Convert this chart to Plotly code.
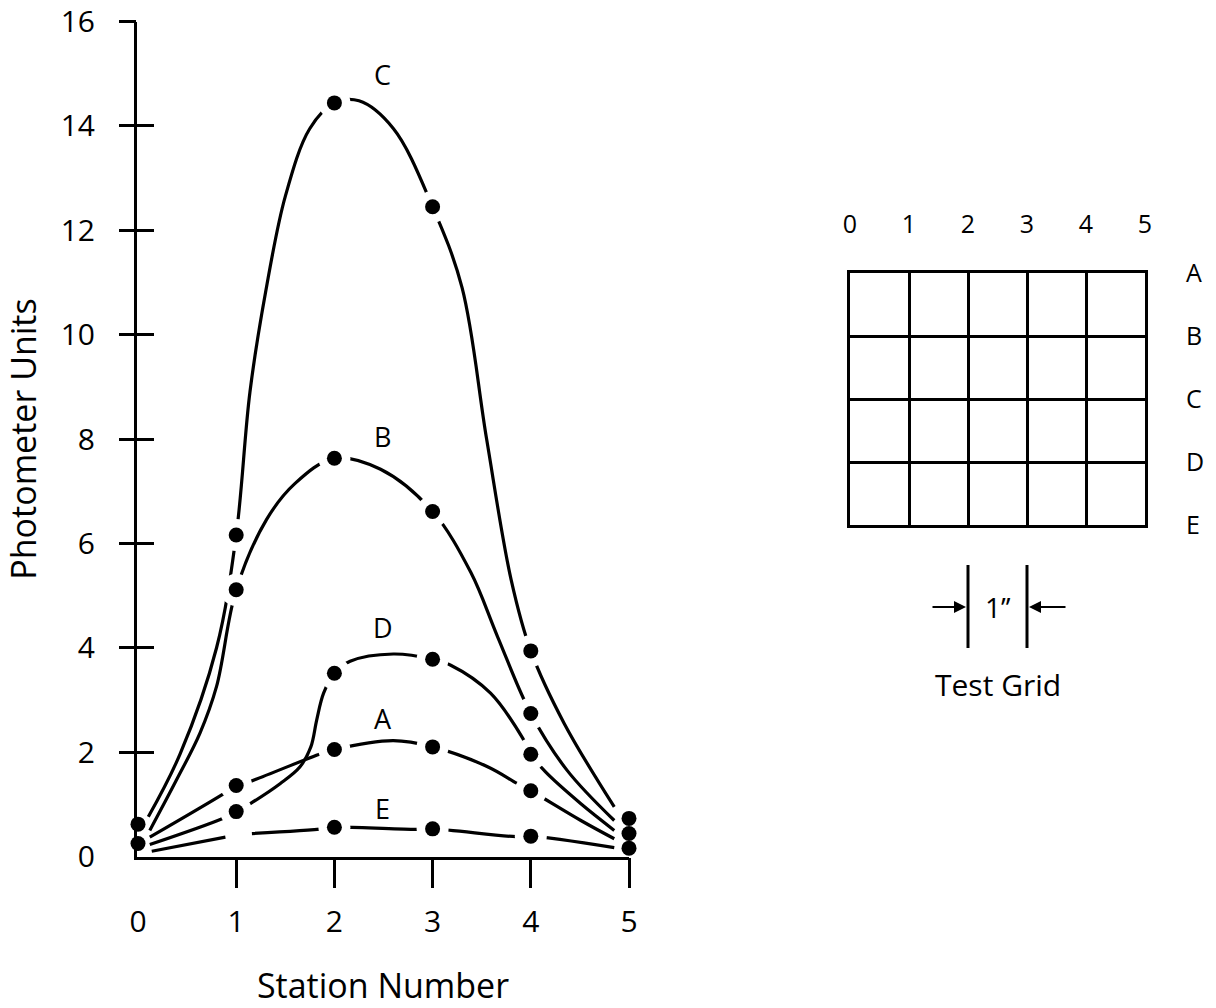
import plotly.graph_objects as go

FONT = "Open Sans"

# ---------------- data ----------------
stations = [0, 1, 2, 3, 4, 5]
x_tick_text = ["0", "1", "2", "3", "4", "5"]
y_tick_vals = [0, 2, 4, 6, 8, 10, 12, 14, 16]

# measured values (dots) per grid row, None = no dot drawn
dots_C = [0.62, 6.16, 14.44, 12.45, 3.94, 0.73]
dots_B = [0.25, 5.11, 7.63, 6.61, 2.74, None]
dots_D = [None, 0.86, 3.51, 3.78, 1.96, 0.44]
dots_A = [None, 1.36, 2.05, 2.10, 1.26, None]
dots_E = [None, None, 0.56, 0.53, 0.39, 0.16]

# readings (between the dots)
C_x = [0.105, 0.43, 0.8, 1.14, 1.3, 1.5, 1.75, 2.25, 2.6, 3.3, 3.55, 3.8, 4.34, 4.85]
C_y = [0.76, 1.97, 4.0, 8.9, 10.82, 12.65, 13.95, 14.48, 13.95, 10.9, 8.0, 5.3, 2.55, 0.95]
B_x = [0.12, 0.39, 0.63, 0.8, 1.31, 1.6, 2.47, 3.39, 3.66, 4.37, 4.85]
B_y = [0.5, 1.46, 2.36, 3.26, 6.46, 7.15, 7.42, 5.44, 4.22, 1.65, 0.69]
D_x = [0.12, 0.85, 1.14, 1.45, 1.65, 1.76, 1.82, 1.89, 2.16, 2.6, 3.18, 3.59, 3.92, 4.15, 4.51, 4.85]
D_y = [0.23, 0.72, 1.01, 1.4, 1.72, 2.1, 2.62, 3.13, 3.74, 3.88, 3.67, 3.13, 2.26, 1.62, 1.01, 0.5]
A_x = [0.12, 0.87, 1.13, 1.86, 2.6, 3.56, 3.86, 4.51, 4.85]
A_y = [0.37, 1.2, 1.43, 1.97, 2.22, 1.72, 1.4, 0.69, 0.34]
E_x = [0.14, 0.89, 1.0, 1.16, 1.89, 2.83, 3.85, 4.85]
E_y = [0.1, 0.37, None, 0.44, 0.53, 0.52, 0.38, 0.17]

series_names = ["C", "B", "D", "A", "E"]
series_dots = [dots_C, dots_B, dots_D, dots_A, dots_E]
series_x = [C_x, B_x, D_x, A_x, E_x]
series_y = [C_y, B_y, D_y, A_y, E_y]
label_x = 2.49
label_y = [14.98, 8.04, 4.38, 2.65, 0.92]

grid_cols = ["0", "1", "2", "3", "4", "5"]
grid_rows = ["A", "B", "C", "D", "E"]

# ---------------- figure ----------------
fig = go.Figure()

# curves
for name, dots, px_, py_ in zip(series_names, series_dots, series_x, series_y):
    pts = list(zip(px_, py_)) + [(s, v) for s, v in zip(stations, dots) if v is not None and 1 <= s <= 4]
    pts.sort(key=lambda p: p[0])
    fig.add_trace(go.Scatter(
        x=[p[0] for p in pts], y=[p[1] for p in pts], mode="lines",
        line=dict(color="black", width=3.2, shape="spline", smoothing=1.0),
        connectgaps=False, showlegend=False, hoverinfo="skip", cliponaxis=False))

# white halos break the lines around the dots
hx, hy = [], []
for dots in series_dots:
    for s, v in zip(stations, dots):
        if v is not None and 1 <= s <= 4:
            hx.append(s)
            hy.append(v)
fig.add_trace(go.Scatter(x=hx, y=hy, mode="markers",
                         marker=dict(color="white", size=32, line=dict(width=0)),
                         showlegend=False, hoverinfo="skip", cliponaxis=False))

# dots
for name, dots in zip(series_names, series_dots):
    xs = [s for s, v in zip(stations, dots) if v is not None]
    ys = [v for v in dots if v is not None]
    fig.add_trace(go.Scatter(x=xs, y=ys, mode="markers", name=name,
                             marker=dict(color="black", size=15, line=dict(width=0)),
                             showlegend=False, cliponaxis=False))

# curve labels
for name, ly in zip(series_names, label_y):
    fig.add_annotation(x=label_x, y=ly, xref="x", yref="y", text=name, showarrow=False,
                       font=dict(family=FONT, size=27, color="black"))

# dummy traces so overlay / grid axes render
fig.add_trace(go.Scatter(x=[None], y=[None], xaxis="x2", yaxis="y2", showlegend=False, hoverinfo="skip"))
fig.add_trace(go.Scatter(x=[None], y=[None], xaxis="x", yaxis="y3", showlegend=False, hoverinfo="skip"))
fig.add_trace(go.Scatter(x=[None], y=[None], xaxis="x4", yaxis="y4", showlegend=False, hoverinfo="skip"))

W, H = 1216, 1008
xdom = [137 / W, 629 / W]
ydom = [1 - 856.5 / H, 1 - 21.5 / H]
xr = [-1 / 98, 5]
yr = [0, 16]
tickfont = dict(family=FONT, size=30, color="black")

fig.update_layout(
    width=W, height=H, margin=dict(l=0, r=0, t=0, b=0, autoexpand=False),
    paper_bgcolor="white", plot_bgcolor="white",
    font=dict(family=FONT, color="black"),
    xaxis=dict(domain=xdom, range=xr, autorange=False, automargin=False, tickvals=stations, ticktext=x_tick_text,
               ticks="", ticklabelstandoff=36, tickfont=tickfont, showgrid=False, zeroline=False,
               showline=True, linewidth=3, linecolor="black", anchor="y",
               title=dict(text="Station Number", font=dict(family=FONT, size=34), standoff=42)),
    yaxis=dict(domain=ydom, range=yr, autorange=False, automargin=False, tickvals=y_tick_vals,
               ticks="", ticklabelstandoff=33, tickfont=tickfont, showgrid=False, zeroline=False,
               showline=True, linewidth=3, linecolor="black", anchor="x",
               title=dict(text="Photometer Units", font=dict(family=FONT, size=34), standoff=16)),
    xaxis2=dict(overlaying="x", anchor="y2", range=xr, autorange=False, automargin=False, tickvals=stations[1:],
                ticks="outside", ticklen=30, tickwidth=3, tickcolor="black", showticklabels=False,
                showgrid=False, zeroline=False, showline=False, side="bottom"),
    yaxis2=dict(overlaying="y", anchor="x2", range=yr, autorange=False, automargin=False, tickvals=y_tick_vals[1:],
                ticks="outside", ticklen=17, tickwidth=3, tickcolor="black", showticklabels=False,
                showgrid=False, zeroline=False, showline=False, side="left"),
    yaxis3=dict(overlaying="y", anchor="x", range=yr, autorange=False, automargin=False, tickvals=y_tick_vals[1:],
                ticks="inside", ticklen=17, tickwidth=3, tickcolor="black", showticklabels=False,
                showgrid=False, zeroline=False, showline=False, side="left"),
    xaxis4=dict(domain=[850 / W, 1145 / W], anchor="y4", range=[0, 5], autorange=False, automargin=False,
                tickvals=list(range(6)), ticktext=grid_cols, side="top", ticks="",
                ticklabelstandoff=27, tickfont=dict(family=FONT, size=25, color="black"),
                showgrid=True, gridcolor="black", gridwidth=3, zeroline=False,
                showline=True, mirror=True, linewidth=3, linecolor="black"),
    yaxis4=dict(domain=[1 - 525 / H, 1 - 273 / H], anchor="x4", range=[4, 0], autorange=False, automargin=False,
                tickvals=list(range(5)), ticktext=grid_rows, side="right", ticks="",
                ticklabelstandoff=33, tickfont=dict(family=FONT, size=25, color="black"),
                showgrid=True, gridcolor="black", gridwidth=3, zeroline=False,
                showline=True, mirror=True, linewidth=3, linecolor="black"),
)

# 1-inch dimension marks on the test grid
dim_top, dim_bot, dim_mid = 1 - 565 / H, 1 - 648 / H, 1 - 607 / H
for gx in (2, 3):
    fig.add_shape(type="line", xref="x4", yref="paper", x0=gx, x1=gx, y0=dim_bot, y1=dim_top,
                  line=dict(color="black", width=3))
fig.add_annotation(x=2, y=dim_mid, xref="x4", yref="paper", ax=-37, ay=0, text="",
                   showarrow=True, arrowhead=2, arrowsize=1.2, arrowwidth=2, arrowcolor="black", standoff=2)
fig.add_annotation(x=3, y=dim_mid, xref="x4", yref="paper", ax=40, ay=0, text="",
                   showarrow=True, arrowhead=2, arrowsize=1.2, arrowwidth=2, arrowcolor="black", standoff=2)
fig.add_annotation(x=2.5, y=dim_mid, xref="x4", yref="paper", text="1\u2019\u2019", showarrow=False,
                   font=dict(family=FONT, size=28, color="black"))
fig.add_annotation(x=2.5, y=1 - 684 / H, xref="x4", yref="paper", yanchor="middle", text="Test Grid",
                   showarrow=False, font=dict(family=FONT, size=30, color="black"))

fig.write_html("out.html")
